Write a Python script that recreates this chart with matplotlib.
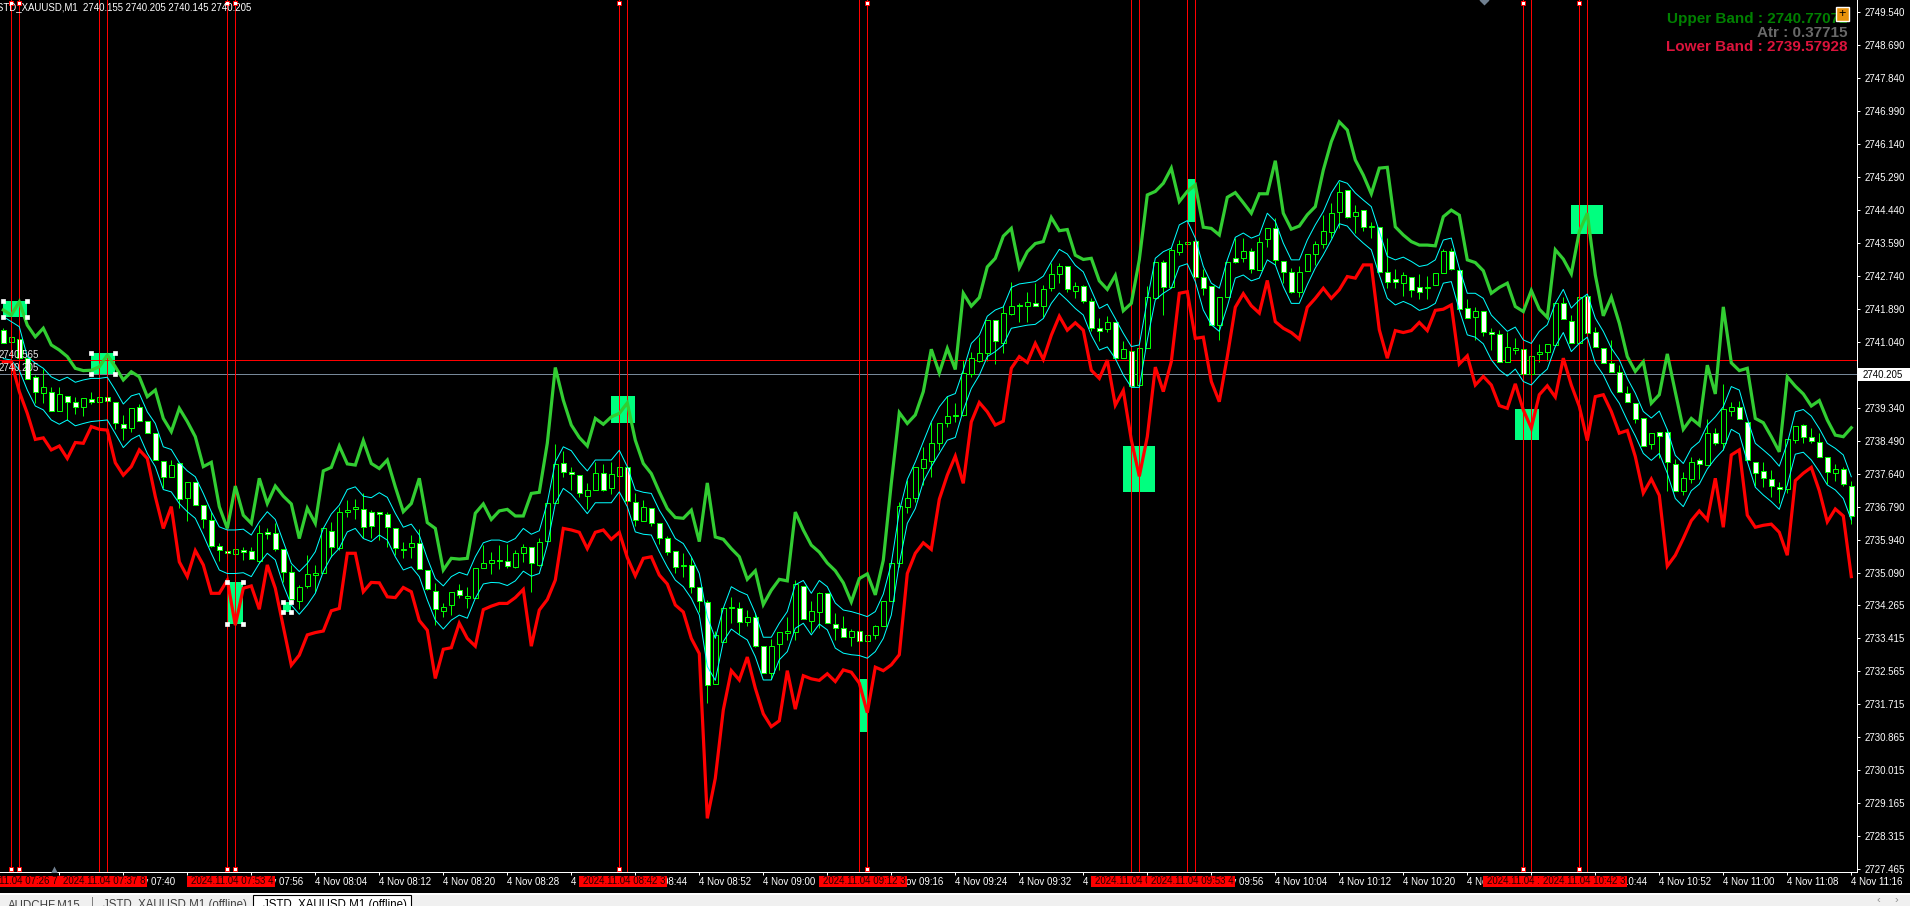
import numpy as np
import matplotlib
matplotlib.use("Agg")
import matplotlib.pyplot as plt
from matplotlib.patches import Rectangle
from matplotlib.transforms import blended_transform_factory

plt.rcParams['font.family'] = ['Liberation Sans', 'DejaVu Sans']

upper_band = [
2741.86,2741.73,2742.07,2741.47,2741.17,2741.39,2740.96,2740.83,2740.66,2740.36,
2740.30,2740.31,2740.40,2740.70,2740.40,2740.06,2740.27,2740.14,2739.63,2739.80,
2739.07,2738.73,2739.33,2738.99,2738.60,2737.83,2737.94,2736.80,2736.24,2737.33,
2736.58,2736.37,2737.53,2736.88,2737.33,2737.07,2736.87,2735.98,2736.76,2736.37,
2737.72,2737.81,2738.36,2737.90,2737.87,2738.50,2737.91,2737.78,2738.00,2737.31,
2736.67,2736.88,2737.53,2736.39,2736.24,2735.17,2735.47,2735.45,2735.47,2736.63,
2736.87,2736.47,2736.69,2736.73,2736.56,2736.56,2737.14,2737.17,2738.43,2740.38,
2739.54,2738.90,2738.58,2738.36,2739.07,2738.92,2739.11,2739.20,2739.47,2738.51,
2737.91,2737.65,2737.18,2736.75,2736.52,2736.50,2736.71,2735.90,2737.41,2736.02,
2735.96,2735.72,2735.51,2734.93,2735.15,2734.28,2734.65,2734.93,2734.89,2736.66,
2736.20,2735.81,2735.63,2735.35,2735.15,2734.84,2734.35,2734.95,2735.07,2734.53,
2735.42,2737.40,2739.22,2738.94,2739.16,2739.76,2740.85,2740.24,2740.87,2740.33,
2742.29,2741.96,2742.18,2742.97,2743.19,2743.76,2743.96,2742.95,2743.36,2743.57,
2743.62,2744.24,2743.90,2743.93,2743.27,2743.16,2743.19,2742.61,2742.39,2742.75,
2741.84,2742.03,2743.15,2744.82,2744.91,2745.12,2745.51,2744.65,2744.91,2745.08,
2743.99,2743.96,2743.79,2744.76,2744.88,2744.62,2744.35,2744.85,2744.85,2745.70,
2744.35,2743.94,2744.02,2744.31,2744.52,2745.46,2746.19,2746.70,2746.49,2745.72,
2745.33,2744.85,2745.51,2745.53,2744.00,2743.79,2743.62,2743.53,2743.53,2743.51,
2744.26,2744.43,2744.30,2743.15,2743.08,2742.87,2742.29,2742.44,2742.55,2741.95,
2741.82,2742.36,2741.88,2741.67,2743.41,2743.17,2742.79,2743.88,2744.35,2742.76,
2741.71,2742.19,2741.52,2740.66,2740.28,2740.53,2739.46,2739.68,2740.73,2739.75,
2738.79,2739.07,2738.90,2740.44,2739.70,2741.94,2740.50,2740.30,2740.36,2739.07,
2738.96,2738.60,2738.21,2740.14,2739.90,2739.70,2739.39,2739.53,2739.03,2738.64,2738.60,2738.83]

lower_band = [
2740.53,2740.53,2739.76,2739.20,2738.53,2738.57,2738.26,2738.36,2738.04,2738.45,
2738.43,2738.86,2738.79,2738.77,2737.93,2737.61,2737.83,2738.26,2738.04,2737.06,
2736.24,2736.80,2735.38,2735.00,2735.67,2735.30,2734.57,2734.57,2734.91,2733.75,
2734.70,2734.76,2734.16,2735.30,2734.70,2733.71,2732.72,2732.98,2733.50,2733.56,
2733.60,2734.12,2734.18,2735.60,2735.60,2734.61,2734.85,2734.84,2734.48,2734.46,
2734.72,2734.61,2733.87,2733.62,2732.38,2733.13,2733.17,2733.80,2733.41,2733.21,
2734.15,2734.24,2734.31,2734.31,2734.46,2734.67,2733.21,2734.14,2734.41,2734.91,
2736.24,2736.20,2736.14,2735.72,2736.14,2736.20,2735.96,2736.14,2735.49,2735.02,
2735.47,2735.51,2735.04,2734.81,2734.27,2734.09,2733.41,2733.02,2728.78,2729.81,
2731.57,2732.58,2732.34,2732.93,2732.13,2731.47,2731.14,2731.29,2732.58,2731.59,
2732.45,2732.37,2732.33,2732.50,2732.30,2732.60,2732.54,2732.26,2731.50,2732.67,
2732.58,2732.73,2732.99,2735.08,2735.60,2735.87,2735.70,2736.99,2737.61,2738.10,
2737.40,2738.98,2739.48,2739.24,2738.90,2739.00,2740.36,2740.66,2740.51,2741.00,
2740.59,2741.21,2741.70,2741.34,2741.53,2741.34,2740.31,2740.10,2740.57,2739.41,
2739.79,2738.52,2737.58,2738.60,2740.39,2739.76,2740.53,2742.29,2742.33,2741.13,
2741.16,2740.02,2739.50,2740.66,2741.93,2742.28,2741.97,2741.78,2742.62,2741.56,
2741.39,2741.28,2741.11,2741.93,2742.16,2742.42,2742.16,2742.38,2742.72,2742.68,
2743.02,2743.02,2741.35,2740.62,2741.33,2741.28,2741.33,2741.54,2741.33,2741.85,
2741.88,2741.99,2740.47,2740.68,2739.93,2740.15,2739.93,2739.40,2739.33,2739.96,
2739.29,2738.82,2739.68,2739.91,2739.62,2740.62,2739.93,2739.38,2738.50,2739.63,
2739.68,2739.25,2738.69,2738.76,2738.09,2737.15,2737.51,2737.09,2735.27,2735.55,
2735.98,2736.44,2736.69,2736.46,2737.53,2736.27,2738.13,2738.26,2736.58,2736.27,
2736.32,2736.35,2736.14,2735.55,2737.47,2737.66,2737.81,2737.21,2736.41,2736.74,2736.56,2735.00]

channel_high = [
2741.69,2741.56,2741.43,2740.66,2740.49,2740.36,2740.14,2740.04,2740.13,2740.00,
2740.06,2740.10,2740.10,2740.13,2739.80,2739.44,2739.65,2739.71,2739.24,2738.94,
2738.34,2738.27,2737.93,2737.72,2737.57,2737.14,2736.67,2736.28,2736.20,2736.20,
2736.22,2736.07,2736.41,2736.67,2736.47,2735.90,2735.34,2735.13,2735.34,2735.64,
2736.24,2736.61,2736.84,2737.24,2737.31,2737.07,2737.03,2737.16,2737.04,2736.63,
2736.27,2736.35,2736.07,2735.47,2734.95,2734.76,2735.00,2735.11,2735.04,2735.51,
2735.87,2735.94,2735.94,2735.88,2735.98,2736.24,2736.09,2736.18,2736.90,2737.95,
2738.34,2738.24,2737.95,2737.72,2738.00,2738.00,2738.00,2738.25,2737.83,2737.23,
2737.17,2737.14,2736.71,2736.37,2735.98,2735.85,2735.51,2735.08,2733.97,2733.41,
2734.19,2734.74,2734.62,2734.53,2734.06,2733.44,2733.44,2733.80,2734.10,2734.79,
2734.90,2734.57,2734.90,2734.74,2734.32,2734.14,2734.10,2734.04,2733.97,2734.10,
2734.55,2735.34,2736.67,2737.50,2737.95,2738.47,2738.98,2739.37,2739.63,2739.71,
2740.31,2741.00,2741.21,2741.70,2741.86,2741.94,2742.44,2742.53,2742.56,2742.59,
2742.73,2743.10,2743.42,2743.30,2743.01,2742.84,2742.37,2741.90,2742.01,2741.64,
2741.26,2740.92,2740.96,2742.12,2743.19,2743.36,2743.45,2744.05,2744.16,2743.71,
2742.98,2742.55,2742.42,2743.15,2743.73,2743.84,2743.71,2743.79,2744.35,2744.14,
2743.58,2743.15,2743.15,2743.66,2744.05,2744.39,2744.87,2745.19,2745.12,2744.87,
2744.69,2744.52,2743.88,2743.24,2743.15,2743.22,2743.11,2742.98,2743.02,2743.15,
2743.66,2743.71,2742.94,2742.29,2742.29,2742.16,2741.73,2741.52,2741.31,2741.42,
2741.09,2741.00,2741.31,2741.48,2742.03,2742.39,2741.91,2742.12,2742.27,2741.65,
2741.31,2740.88,2740.58,2740.10,2739.72,2739.25,2739.08,2739.26,2738.78,2738.12,
2737.91,2738.30,2738.47,2738.90,2739.11,2739.37,2739.89,2739.80,2739.07,2738.43,
2738.26,2738.08,2737.84,2738.43,2739.24,2739.30,2739.13,2738.81,2738.43,2738.30,2738.13,2737.57]

channel_low = [
2740.61,2740.57,2740.31,2739.80,2739.39,2739.29,2739.03,2738.92,2739.03,2738.88,
2738.94,2738.99,2739.01,2739.03,2738.68,2738.32,2738.53,2738.64,2738.17,2737.83,
2737.24,2737.18,2736.88,2736.67,2736.50,2736.07,2735.60,2735.17,2735.08,2735.08,
2735.10,2735.00,2735.34,2735.60,2735.43,2734.78,2734.27,2734.03,2734.27,2734.57,
2735.13,2735.51,2735.73,2736.15,2736.24,2735.98,2735.90,2736.07,2735.94,2735.51,
2735.17,2735.25,2735.00,2734.40,2733.88,2733.65,2733.88,2734.01,2733.93,2734.44,
2734.81,2734.85,2734.84,2734.77,2734.89,2735.14,2735.01,2735.08,2735.81,2736.88,
2737.27,2737.12,2736.88,2736.62,2736.90,2736.90,2736.90,2737.18,2736.80,2736.15,
2736.09,2736.07,2735.64,2735.25,2734.91,2734.74,2734.44,2734.01,2732.69,2732.33,
2733.33,2733.65,2733.50,2733.37,2732.94,2732.34,2732.34,2732.86,2733.07,2733.67,
2733.80,2733.50,2733.78,2733.63,2733.16,2733.03,2732.99,2732.97,2732.90,2733.07,
2733.41,2734.01,2735.34,2736.37,2736.75,2737.44,2737.83,2738.17,2738.51,2738.58,
2739.28,2739.84,2740.18,2740.66,2740.79,2740.96,2741.39,2741.43,2741.47,2741.49,
2741.64,2742.03,2742.30,2742.11,2741.90,2741.73,2741.21,2740.83,2740.91,2740.61,
2740.19,2739.87,2739.87,2741.09,2742.12,2742.29,2742.42,2742.98,2743.05,2742.59,
2741.86,2741.48,2741.31,2741.95,2742.68,2742.76,2742.61,2742.68,2743.15,2743.02,
2742.46,2742.03,2742.03,2742.51,2742.94,2743.28,2743.66,2744.08,2744.02,2743.77,
2743.58,2743.41,2742.76,2742.16,2741.99,2742.08,2741.99,2741.85,2741.91,2742.03,
2742.55,2742.59,2741.86,2741.22,2741.16,2740.99,2740.58,2740.32,2740.16,2740.34,
2740.02,2739.93,2740.16,2740.34,2740.92,2741.28,2740.79,2741.00,2741.16,2740.49,
2740.19,2739.76,2739.46,2739.02,2738.62,2738.17,2737.99,2738.17,2737.66,2737.01,
2736.80,2737.21,2737.38,2737.77,2738.04,2738.26,2738.79,2738.67,2737.96,2737.30,
2737.10,2736.93,2736.73,2737.36,2738.15,2738.20,2738.00,2737.70,2737.36,2737.23,2737.01,2736.46]

open_price = [
2741.35,2741.03,2741.11,2740.62,2740.13,2739.72,2739.76,2739.27,2739.65,2739.50,
2739.37,2739.57,2739.48,2739.63,2739.50,2738.93,2738.82,2739.36,2739.01,2738.70,
2737.98,2737.57,2737.93,2737.01,2737.44,2736.84,2736.46,2735.80,2735.66,2735.57,
2735.69,2735.66,2735.39,2736.14,2736.13,2735.70,2735.13,2734.36,2734.77,2735.04,
2735.10,2736.18,2735.74,2736.65,2736.73,2736.75,2736.65,2736.66,2736.60,2736.24,
2735.68,2735.77,2735.87,2735.16,2734.64,2734.12,2734.27,2734.66,2734.44,2734.44,
2735.23,2735.34,2735.44,2735.39,2735.24,2735.62,2735.75,2735.30,2735.91,2736.90,
2737.93,2737.68,2737.62,2737.08,2737.24,2737.66,2737.27,2737.60,2737.81,2736.93,
2736.42,2736.77,2736.39,2735.99,2735.67,2735.28,2735.31,2734.72,2734.34,2732.23,
2733.33,2734.20,2734.20,2733.82,2733.97,2733.22,2732.51,2733.26,2733.54,2733.58,
2734.77,2733.87,2734.10,2734.57,2733.77,2733.69,2733.45,2733.59,2733.35,2733.51,
2733.74,2734.38,2735.36,2736.80,2737.01,2737.79,2737.98,2738.43,2738.94,2739.14,
2739.16,2740.21,2740.56,2740.75,2741.59,2741.02,2741.76,2742.00,2741.95,2742.05,
2741.97,2742.42,2742.78,2742.98,2742.36,2742.49,2742.10,2741.39,2741.37,2741.56,
2740.63,2740.81,2739.93,2740.87,2742.18,2743.10,2742.46,2743.36,2743.57,2743.64,
2742.70,2742.49,2741.47,2742.20,2743.19,2743.21,2743.39,2742.89,2743.68,2743.98,
2743.13,2742.85,2742.31,2742.87,2743.29,2743.56,2743.87,2744.39,2744.96,2744.29,
2744.42,2743.99,2743.99,2742.85,2742.67,2742.55,2742.70,2742.44,2742.42,2742.50,
2742.82,2743.39,2742.90,2741.90,2741.67,2741.84,2741.30,2741.23,2740.53,2740.83,
2740.85,2740.21,2740.72,2740.79,2740.96,2742.03,2741.58,2741.02,2742.22,2741.30,
2740.89,2740.50,2740.26,2739.72,2739.46,2739.07,2738.41,2738.71,2738.73,2737.91,
2737.21,2737.52,2738.00,2737.87,2738.69,2738.43,2739.27,2739.37,2738.99,2737.94,
2737.73,2737.52,2737.31,2737.25,2738.52,2738.91,2738.60,2738.47,2738.09,2737.66,2737.76,2737.34]

close_price = [
2741.02,2741.16,2740.62,2740.09,2739.76,2739.89,2739.27,2739.69,2739.50,2739.37,
2739.59,2739.48,2739.63,2739.51,2738.94,2738.82,2739.33,2739.01,2738.69,2738.00,
2737.57,2737.87,2736.99,2737.43,2736.83,2736.48,2735.80,2735.69,2735.60,2735.70,
2735.63,2735.45,2736.11,2736.10,2735.70,2735.13,2734.42,2734.74,2735.06,2735.10,
2736.24,2735.75,2736.65,2736.71,2736.80,2736.27,2736.29,2736.60,2736.27,2735.73,
2735.69,2735.87,2735.19,2734.67,2734.16,2734.22,2734.61,2734.53,2734.51,2735.21,
2735.34,2735.44,2735.39,2735.26,2735.60,2735.77,2735.34,2735.88,2736.90,2737.91,
2737.70,2737.63,2737.14,2737.24,2737.66,2737.24,2737.63,2737.83,2736.94,2736.46,
2736.80,2736.37,2735.99,2735.64,2735.24,2735.28,2734.72,2734.36,2732.20,2733.50,
2734.18,2734.23,2733.82,2733.97,2733.22,2732.53,2733.22,2733.57,2733.61,2734.81,
2733.90,2734.12,2734.57,2733.80,2733.69,2733.45,2733.61,2733.35,2733.51,2733.72,
2734.38,2735.34,2736.82,2737.01,2737.81,2738.02,2738.43,2738.94,2739.14,2739.14,
2740.23,2740.62,2740.75,2741.60,2741.05,2741.77,2741.97,2741.95,2742.06,2741.97,
2742.39,2742.78,2742.98,2742.39,2742.49,2742.10,2741.39,2741.33,2741.56,2740.62,
2740.85,2739.91,2740.87,2742.19,2743.10,2742.46,2743.40,2743.57,2743.62,2742.70,
2742.42,2741.47,2742.20,2743.10,2743.10,2743.39,2742.91,2743.62,2743.98,2743.15,
2742.85,2742.31,2742.85,2743.29,2743.55,2743.88,2744.36,2744.90,2744.24,2744.39,
2743.99,2743.99,2742.85,2742.57,2742.57,2742.76,2742.37,2742.33,2742.42,2742.80,
2743.37,2742.91,2741.88,2741.65,2741.84,2741.30,2741.23,2740.51,2740.90,2740.87,
2740.21,2740.68,2740.79,2740.98,2742.03,2741.63,2741.02,2742.20,2741.28,2740.90,
2740.50,2740.27,2739.74,2739.48,2739.05,2738.37,2738.69,2738.63,2737.94,2737.19,
2737.53,2737.96,2737.89,2738.69,2738.43,2739.31,2739.37,2739.05,2737.99,2737.66,
2737.53,2737.33,2737.26,2738.53,2738.88,2738.60,2738.50,2738.09,2737.68,2737.76,2737.37,2736.57]

high_price = [
2741.39,2741.16,2741.11,2740.62,2740.19,2740.33,2739.89,2739.87,2739.65,2739.61,
2739.59,2739.76,2739.63,2739.63,2739.50,2739.16,2739.33,2739.44,2739.01,2738.70,
2737.98,2738.00,2737.93,2737.43,2737.44,2736.84,2736.67,2735.86,2735.66,2735.70,
2735.77,2735.77,2736.33,2736.24,2736.39,2735.70,2735.30,2734.78,2735.56,2735.30,
2736.24,2736.41,2736.80,2736.97,2736.99,2737.14,2736.71,2736.66,2736.67,2736.24,
2735.90,2736.07,2736.22,2735.16,2734.84,2734.33,2734.61,2734.81,2734.74,2735.21,
2735.81,2735.64,2735.81,2735.84,2735.69,2735.84,2735.75,2735.99,2736.90,2738.41,
2738.24,2737.83,2737.62,2737.40,2737.96,2737.91,2737.96,2737.83,2737.87,2737.14,
2736.97,2736.77,2736.39,2736.05,2735.67,2735.60,2735.51,2734.72,2734.41,2733.61,
2734.18,2734.47,2734.34,2734.14,2734.06,2733.22,2733.39,2733.57,2733.95,2734.90,
2734.77,2734.37,2734.61,2734.57,2734.06,2733.99,2733.65,2733.59,2733.51,2733.75,
2734.38,2735.43,2736.93,2737.48,2737.81,2738.33,2738.99,2738.94,2739.65,2739.46,
2740.57,2740.79,2741.17,2741.60,2741.59,2741.99,2742.59,2742.03,2742.33,2742.56,
2742.50,2743.06,2743.08,2742.98,2742.59,2742.50,2742.16,2741.65,2741.71,2741.56,
2741.05,2740.81,2740.87,2742.48,2743.10,2743.15,2743.45,2743.66,2743.62,2743.64,
2742.91,2742.49,2742.20,2743.10,2743.70,2743.70,2743.45,2743.73,2743.98,2744.22,
2743.13,2742.93,2742.99,2743.29,2743.63,2744.30,2744.60,2745.16,2744.96,2744.56,
2744.42,2744.13,2744.00,2743.70,2742.91,2742.85,2742.72,2742.79,2742.73,2742.80,
2743.42,2743.45,2742.90,2742.14,2741.93,2741.84,2741.39,2741.35,2741.30,2741.13,
2740.85,2740.68,2740.99,2740.98,2742.03,2742.19,2741.73,2742.20,2742.25,2741.41,
2740.89,2741.10,2740.45,2739.90,2739.46,2739.07,2738.69,2738.73,2738.79,2738.02,
2737.70,2738.09,2738.04,2739.05,2738.82,2739.96,2739.50,2739.53,2738.99,2737.94,
2737.96,2737.74,2737.44,2738.53,2738.88,2738.93,2738.82,2738.70,2738.09,2737.90,2737.81,2737.46]

low_price = [
2741.02,2741.03,2740.62,2740.09,2739.46,2739.46,2739.25,2739.27,2739.03,2739.18,
2739.14,2739.44,2739.48,2739.51,2738.81,2738.52,2738.73,2739.01,2738.69,2738.00,
2737.27,2737.57,2736.76,2736.44,2736.83,2736.24,2735.77,2735.41,2735.60,2735.57,
2735.43,2735.45,2735.34,2735.96,2735.67,2734.87,2734.38,2734.16,2734.70,2734.61,
2735.10,2735.51,2735.69,2736.54,2736.47,2735.99,2735.99,2735.93,2735.77,2735.56,
2735.47,2735.47,2735.19,2734.66,2733.76,2733.97,2734.01,2734.44,2734.18,2734.44,
2735.23,2735.07,2735.20,2735.21,2735.21,2735.38,2734.61,2735.27,2735.91,2736.90,
2737.55,2737.23,2737.06,2736.73,2737.23,2737.21,2737.13,2737.60,2736.90,2736.31,
2736.42,2736.31,2735.84,2735.56,2735.08,2735.00,2734.59,2734.10,2731.74,2732.23,
2733.33,2733.81,2733.52,2733.74,2733.20,2732.53,2732.36,2732.60,2733.37,2733.37,
2733.90,2733.58,2733.67,2733.80,2733.37,2733.45,2733.21,2733.35,2733.35,2733.40,
2733.74,2734.38,2735.24,2736.63,2736.93,2737.36,2737.57,2738.26,2738.84,2738.99,
2739.14,2740.14,2740.53,2740.56,2740.47,2740.76,2741.73,2741.56,2741.56,2741.97,
2741.69,2742.36,2742.55,2742.31,2742.16,2742.05,2741.33,2741.05,2741.30,2740.62,
2740.62,2739.91,2739.93,2740.87,2742.18,2741.73,2742.46,2743.27,2743.57,2742.70,
2742.25,2741.47,2741.09,2742.20,2743.06,2743.10,2742.82,2742.89,2743.49,2743.02,
2742.55,2742.29,2742.20,2742.87,2743.02,2743.45,2743.70,2743.96,2744.22,2743.83,
2743.90,2743.70,2742.85,2742.42,2742.42,2742.23,2742.19,2742.14,2742.14,2742.50,
2742.80,2742.89,2741.86,2741.65,2741.09,2741.19,2740.83,2740.51,2740.53,2740.73,
2740.21,2740.21,2740.53,2740.56,2740.96,2741.63,2741.02,2741.02,2741.28,2740.90,
2740.50,2740.27,2739.74,2739.48,2738.95,2738.37,2738.28,2738.04,2737.19,2737.19,
2737.10,2737.40,2737.50,2737.87,2738.39,2738.26,2739.13,2739.05,2737.99,2737.33,
2737.30,2737.06,2736.90,2737.16,2738.45,2738.43,2738.43,2738.07,2737.38,2737.47,2737.32,2736.35]

y_tick_values = [2749.540,2748.690,2747.840,2746.990,2746.140,2745.290,2744.440,2743.590,2742.740,
                 2741.890,2741.040,2739.340,2738.490,2737.640,2736.790,2735.940,2735.090,2734.265,
                 2733.415,2732.565,2731.715,2730.865,2730.015,2729.165,2728.315,2727.465]
x_tick_bars = list(range(7, 232, 8))
x_tick_labels = ['4 Nov 07:32','4 Nov 07:40','4 Nov 07:48','4 Nov 07:56','4 Nov 08:04','4 Nov 08:12','4 Nov 08:20',
                 '4 Nov 08:28','4 Nov 08:36','4 Nov 08:44','4 Nov 08:52','4 Nov 09:00','4 Nov 09:08','4 Nov 09:16',
                 '4 Nov 09:24','4 Nov 09:32','4 Nov 09:40','4 Nov 09:48','4 Nov 09:56','4 Nov 10:04','4 Nov 10:12',
                 '4 Nov 10:20','4 Nov 10:28','4 Nov 10:36','4 Nov 10:44','4 Nov 10:52','4 Nov 11:00','4 Nov 11:08',
                 '4 Nov 11:16']

resistance_price = 2740.565
bid_price = 2740.205
event_bars = [(1,2),(12,13),(28,29),(77,78),(107,108),(141,142),(148,149),(190,191),(197,198)]
event_labels = ['2024.11.04 07:26 7','2024.11.04 07:37 8','2024.11.04 07:53 4','2024.11.04 08:42 3',
                '2024.11.04 09:12 3','2024.11.04 09:46 3','2024.11.04 09:53 4','2024.11.04 10:35 3','2024.11.04 10:42 3']
handle_bars = [1,2,28,29,77,108,190,197]
zone_x0 = [0,11,28,35,76,107,140,148,189,196]
zone_x1 = [3,14,30,36,79,108,144,149,192,200]
zone_low = [2741.69,2740.21,2733.78,2734.09,2738.95,2731.00,2737.18,2744.12,2738.51,2743.81]
zone_high = [2742.10,2740.75,2734.86,2734.35,2739.65,2732.37,2738.36,2745.23,2739.31,2744.56]
zones_selected = [0,1,2,3]

W, H = 1910, 906
AX_R, AX_B = 1857, 872
PX = 0.72  # one pixel in points at dpi 100
fig = plt.figure(figsize=(W/100, H/100), dpi=100, facecolor='black')
ax = fig.add_axes([0, 1-AX_B/H, AX_R/W, AX_B/H], facecolor='black')
bars = np.arange(len(upper_band))
ax.set_xlim((0-3.3)/8, (AX_R-3.3)/8)
ax.set_ylim(2749.836-0.02573*AX_B, 2749.836)

# zones
for a, b, l, h in zip(zone_x0, zone_x1, zone_low, zone_high):
    ax.add_patch(Rectangle((a, l), b-a, h-l, fc='#00FF7F', ec='none', zorder=1))
for k in zones_selected:
    xs = [zone_x0[k], zone_x1[k], zone_x0[k], zone_x1[k]]
    ys = [zone_low[k], zone_low[k], zone_high[k], zone_high[k]]
    ax.plot(xs, ys, ls='none', marker='s', ms=3, mfc='white', mec='white', mew=0.5, zorder=6)

# candles
o, c, hi, lo = map(np.array, (open_price, close_price, high_price, low_price))
wicks = ax.vlines(bars, lo, hi, colors='#00FF00', lw=PX, zorder=2)
wicks.set_snap(True)
body_lo = np.minimum(o, c); body_h = np.maximum(np.abs(c-o), 0.02)
fills = ['white' if cc < oo else 'black' for oo, cc in zip(o, c)]
candle_bars = ax.bar(bars, body_h, 4.6/8, body_lo, color=fills, edgecolor='#00FF00', linewidth=PX, zorder=3)
for r in candle_bars:
    r.set_snap(True)

# horizontal and vertical lines
ax.axhline(resistance_price, color='#FF0000', lw=PX, zorder=2.5, snap=True)
ax.axhline(bid_price, color='#778899', lw=PX, zorder=2.5, snap=True)
for a, b in event_bars:
    ax.axvline(a, color='#FF0000', lw=PX, zorder=4, snap=True)
    ax.axvline(b, color='#FF0000', lw=PX, zorder=4, snap=True)

# bands
ax.plot(bars, channel_high, color='#00FFFF', lw=PX, zorder=5)
ax.plot(bars, channel_low, color='#00FFFF', lw=PX, zorder=5)
ax.plot(bars, upper_band, color='#32CD32', lw=2.3, zorder=5, solid_joinstyle='miter')
ax.plot(bars, lower_band, color='#FF0000', lw=2.3, zorder=5, solid_joinstyle='miter')

# line handles on top and bottom
tr = blended_transform_factory(ax.transData, ax.transAxes)
ax.plot(handle_bars, [1-2.5/AX_B]*len(handle_bars), ls='none', marker='s', ms=3, mfc='white', mec='#FF0000', mew=0.7,
        transform=tr, zorder=7, clip_on=False)
ax.plot(handle_bars, [3.5/AX_B]*len(handle_bars), ls='none', marker='s', ms=3, mfc='white', mec='#FF0000', mew=0.7,
        transform=tr, zorder=7, clip_on=False)
ax.plot([6.35], [2.5/AX_B], ls='none', marker='^', ms=6, mfc='#708090', mec='none', transform=tr, zorder=7)
ax.plot([185.1], [1.0], ls='none', marker='D', ms=5, mfc='#708090', mec='none', transform=tr, zorder=7)

# axes
for s in ('top', 'left'):
    ax.spines[s].set_visible(False)
for s in ('right', 'bottom'):
    ax.spines[s].set_color('white')
    ax.spines[s].set_linewidth(PX)
ax.yaxis.tick_right()
ax.set_yticks(y_tick_values, [f'{v:.3f}' for v in y_tick_values])
ax.tick_params(axis='y', colors='white', length=2.5, width=PX, pad=2.8, labelsize=7.0)
ax.set_xticks(x_tick_bars, x_tick_labels)
ax.tick_params(axis='x', colors='white', length=2.2, width=PX, pad=1.5, labelsize=7.0)
for t in ax.get_xticklabels():
    t.set_ha('left')

def T(x, y, s, **kw):
    kw.setdefault('va', 'center')
    kw.setdefault('ha', 'left')
    kw.setdefault('color', 'white')
    kw.setdefault('fontsize', 7.0)
    return fig.text(x/W, 1-y/H, s, **kw)

def R(x0, y0, x1, y1, **kw):
    kw.setdefault('ec', 'none')
    fig.add_artist(Rectangle((x0/W, 1-y1/H), (x1-x0)/W, (y1-y0)/H, transform=fig.transFigure, **kw))

# current price label
R(1858, 368, 1910, 381, fc='white', zorder=5)
T(1863, 374.5, f'{bid_price:.3f}', color='black', zorder=6)

# red time labels
for k, ((a, b), lab) in enumerate(zip(event_bars, event_labels)):
    cx = 3.3 + 8*(a+b)/2
    R(cx-44, 875.5, cx+44, 887, fc='#FF0000', zorder=10+2*k)
    T(cx-40, 881, lab, color='#200000', zorder=11+2*k)

# left-hand labels and header
T(-1, 355, f'{resistance_price:.3f}', color='#E8E8E8', zorder=8)
T(-1, 368, f'{bid_price:.3f}', color='#E8E8E8', zorder=8)
T(-8, 7, 'JSTD_XAUUSD,M1  2740.155 2740.205 2740.145 2740.205', fontsize=6.9, zorder=8)

# info panel
info = [('Upper Band : 2740.77072', '#008000', 19), ('Atr : 0.37715', '#696969', 33),
        ('Lower Band : 2739.57928', '#DC143C', 47)]
for s, col, y in info:
    T(1847, y, s, color=col, ha='right', fontsize=11, fontweight='bold', zorder=8)
R(1836, 7, 1849, 21, fc='#E8920A', lw=1, ec='white', zorder=9)
T(1842.5, 14, '+', color='black', ha='center', fontsize=9, zorder=10)

# tab strip
R(0, 893, W, 906, fc='#F0F0F0', zorder=5)
R(0, 893, W, 894.5, fc='white', zorder=6)
R(253, 895, 411, 907, fc='white', ec='black', lw=0.8, zorder=6)
T(8, 905, 'AUDCHF,M15', color='#404040', fontsize=8.3, zorder=7)
R(92, 897, 92.8, 906, fc='#808080', zorder=7)
T(103, 905, 'JSTD_XAUUSD,M1 (offline)', color='#404040', fontsize=8.3, zorder=7)
T(263, 905, 'JSTD_XAUUSD,M1 (offline)', color='black', fontsize=8.3, zorder=7)
T(1878, 900, '\u2039', color='#909090', ha='center', fontsize=8, zorder=7)
T(1896, 900, '\u203a', color='#909090', ha='center', fontsize=8, zorder=7)

fig.savefig('out.png', dpi=100, facecolor='black')
